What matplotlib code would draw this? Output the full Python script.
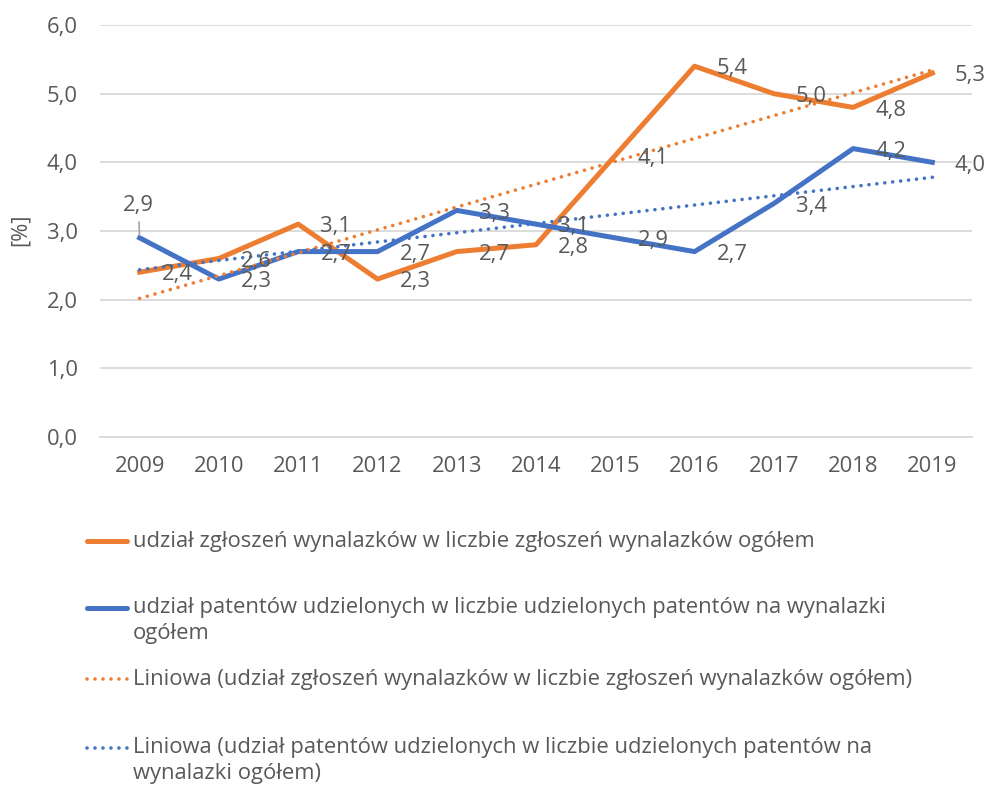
import numpy as np
import matplotlib
matplotlib.use("Agg")
import matplotlib.pyplot as plt
from matplotlib.lines import Line2D

plt.rcParams['font.family'] = ['Open Sans', 'DejaVu Sans']

# data
years = [2009, 2010, 2011, 2012, 2013, 2014, 2015, 2016, 2017, 2018, 2019]
zgloszenia = [2.4, 2.6, 3.1, 2.3, 2.7, 2.8, 4.1, 5.4, 5.0, 4.8, 5.3]
patenty = [2.9, 2.3, 2.7, 2.7, 3.3, 3.1, 2.9, 2.7, 3.4, 4.2, 4.0]
yticks = [0, 1, 2, 3, 4, 5, 6]

legend_labels = [
    ["udział zgłoszeń wynalazków w liczbie zgłoszeń wynalazków ogółem"],
    ["udział patentów udzielonych w liczbie udzielonych patentów na wynalazki", "ogółem"],
    ["Liniowa (udział zgłoszeń wynalazków w liczbie zgłoszeń wynalazków ogółem)"],
    ["Liniowa (udział patentów udzielonych w liczbie udzielonych patentów na", "wynalazki ogółem)"],
]

ORANGE = '#ED7D31'
BLUE = '#4472C4'
GREY = '#595959'
GRID = '#D9D9D9'
FS = 15.8

W, H = 986, 785
def fx(px):
    return px / W
def fy(py):
    return 1 - py / H

fig = plt.figure(figsize=(W / 100, H / 100), dpi=100)
ax = fig.add_axes([fx(100), fy(437), 872 / W, 412 / H])

x = np.array(years, dtype=float)
ax.plot(x, zgloszenia, color=ORANGE, lw=3.6, solid_joinstyle='round', zorder=3)
ax.plot(x, patenty, color=BLUE, lw=3.6, solid_joinstyle='round', zorder=3)

# linear trend lines (Excel "Liniowa")
dot = (0, (0.01, 2.2))
for ser, col in [(zgloszenia, ORANGE), (patenty, BLUE)]:
    a, b = np.polyfit(x, ser, 1)
    ax.plot(x, a * x + b, color=col, lw=2.6, linestyle=dot,
            dash_capstyle='round', zorder=4)

def fmt(v):
    return f"{v:.1f}".replace('.', ',')

# data labels, to the right of each point
for ser in (zgloszenia, patenty):
    for xi, yi in zip(years, ser):
        if ser is patenty and xi == 2009:
            ax.annotate(fmt(yi), (xi, yi), xytext=(-1, 23), textcoords='offset points',
                        ha='center', va='center', fontsize=FS, color=GREY, zorder=5,
                        arrowprops=dict(arrowstyle='-', color='#A6A6A6', lw=1.2,
                                        shrinkA=2, shrinkB=2))
            continue
        ax.annotate(fmt(yi), (xi, yi), xytext=(16, -2), textcoords='offset points',
                    ha='left', va='center', fontsize=FS, color=GREY, zorder=5)

ax.set_xlim(2008.5, 2019.5)
ax.set_ylim(0, 6)
ax.set_xticks(years)
ax.set_xticklabels([str(y) for y in years])
ax.set_yticks(yticks)
ax.set_yticklabels([fmt(v) for v in yticks])
ax.tick_params(axis='both', length=0, labelsize=FS, labelcolor=GREY)
ax.tick_params(axis='x', pad=14)
ax.tick_params(axis='y', pad=16)
ax.grid(axis='y', color=GRID, lw=1.3)
ax.set_axisbelow(True)
for s in ['top', 'right', 'left']:
    ax.spines[s].set_visible(False)
ax.spines['bottom'].set_color(GRID)
ax.spines['bottom'].set_linewidth(1.3)
fig.text(fx(20), fy(230), '[%]', rotation=90, ha='center', va='center',
         fontsize=FS, color=GREY)

# legend drawn by hand to keep Excel's spacing
rows = [541, 608, 679, 748]
styles = [(ORANGE, '-', 3.6), (BLUE, '-', 3.6), (ORANGE, dot, 2.6), (BLUE, dot, 2.6)]
for ry, (col, ls, lw), lines in zip(rows, styles, legend_labels):
    fig.add_artist(Line2D([fx(87), fx(127)], [fy(ry), fy(ry)], transform=fig.transFigure,
                          color=col, lw=lw, linestyle=ls, solid_capstyle='round',
                          dash_capstyle='round'))
    for i, line in enumerate(lines):
        fig.text(fx(133), fy(ry + 26 * i), line, ha='left', va='center',
                 fontsize=FS, color=GREY)

fig.savefig('out.png', dpi=100)
